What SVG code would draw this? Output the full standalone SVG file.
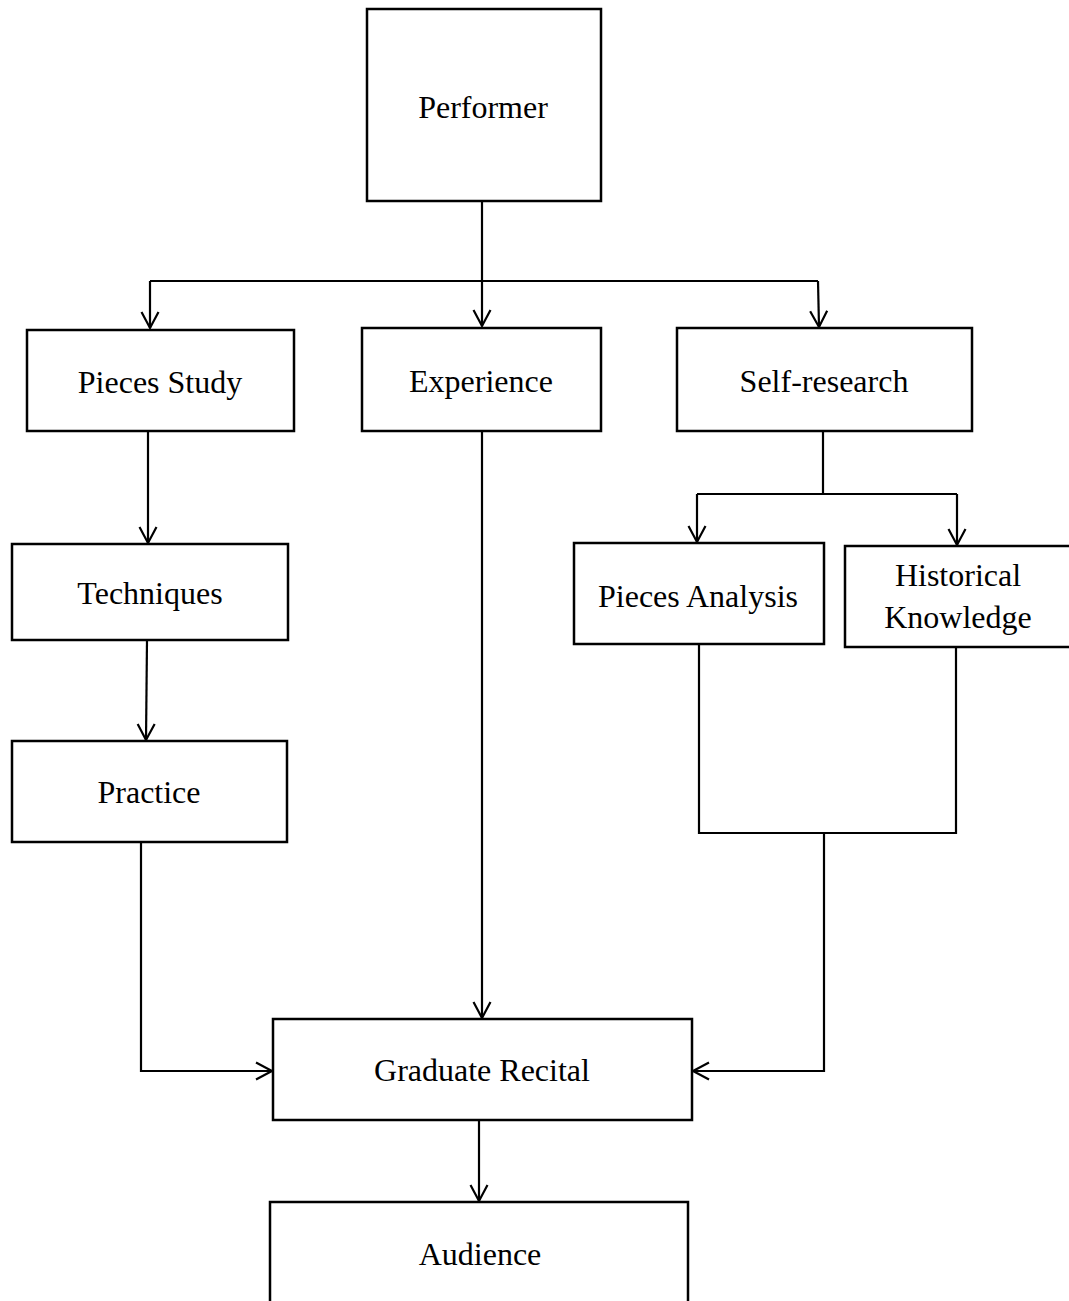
<svg xmlns="http://www.w3.org/2000/svg" width="1069" height="1301" viewBox="0 0 1069 1301">
<style>
.box{fill:#fff;stroke:#000;stroke-width:2.5}
.lbl{font-family:"Liberation Serif","Times New Roman",serif;font-size:32px;fill:#000;text-anchor:middle}
.con{fill:none;stroke:#000;stroke-width:2.2}
</style>
<defs>
<marker id="arr" markerUnits="userSpaceOnUse" markerWidth="22" markerHeight="22" viewBox="-19 -11 22 22" refX="0" refY="0" orient="auto" overflow="visible">
<path d="M-16,-8.5 L0,0 L-16,8.5" fill="none" stroke="#000" stroke-width="2.2"/>
</marker>
</defs>
<rect width="1069" height="1301" fill="#fff"/>
<g id="connectors">
<path class="con" d="M482,201 V326" marker-end="url(#arr)"/>
<path class="con" d="M150,281 H818"/>
<path class="con" d="M150,281 V328" marker-end="url(#arr)"/>
<path class="con" d="M818,281 L819,327" marker-end="url(#arr)"/>
<path class="con" d="M148,431 V543" marker-end="url(#arr)"/>
<path class="con" d="M147,640 L146,740" marker-end="url(#arr)"/>
<path class="con" d="M141,842 V1071 H272" marker-end="url(#arr)"/>
<path class="con" d="M482,431 V1018" marker-end="url(#arr)"/>
<path class="con" d="M823,431 V494"/>
<path class="con" d="M697,494 H957"/>
<path class="con" d="M697,494 V542" marker-end="url(#arr)"/>
<path class="con" d="M957,494 V545" marker-end="url(#arr)"/>
<path class="con" d="M699,644 V833 H956 V647"/>
<path class="con" d="M824,833 V1071 H693" marker-end="url(#arr)"/>
<path class="con" d="M479,1120 V1201" marker-end="url(#arr)"/>
</g>
<g id="performer"><rect class="box" x="367" y="9" width="234" height="192"/><text class="lbl" x="483" y="118">Performer</text></g>
<g id="pieces-study"><rect class="box" x="27" y="330" width="267" height="101"/><text class="lbl" x="160" y="393">Pieces Study</text></g>
<g id="experience"><rect class="box" x="362" y="328" width="239" height="103"/><text class="lbl" x="481" y="392">Experience</text></g>
<g id="self-research"><rect class="box" x="677" y="328" width="295" height="103"/><text class="lbl" x="824" y="392">Self-research</text></g>
<g id="techniques"><rect class="box" x="12" y="544" width="276" height="96"/><text class="lbl" x="150" y="604">Techniques</text></g>
<g id="practice"><rect class="box" x="12" y="741" width="275" height="101"/><text class="lbl" x="149" y="803">Practice</text></g>
<g id="pieces-analysis"><rect class="box" x="574" y="543" width="250" height="101"/><text class="lbl" x="698" y="607">Pieces Analysis</text></g>
<g id="historical-knowledge"><rect class="box" x="845" y="546" width="230" height="101"/><text class="lbl" x="958" y="586">Historical</text><text class="lbl" x="958" y="628">Knowledge</text></g>
<g id="graduate-recital"><rect class="box" x="273" y="1019" width="419" height="101"/><text class="lbl" x="482" y="1081">Graduate Recital</text></g>
<g id="audience"><rect class="box" x="270" y="1202" width="418" height="110"/><text class="lbl" x="480" y="1265">Audience</text></g>
</svg>
